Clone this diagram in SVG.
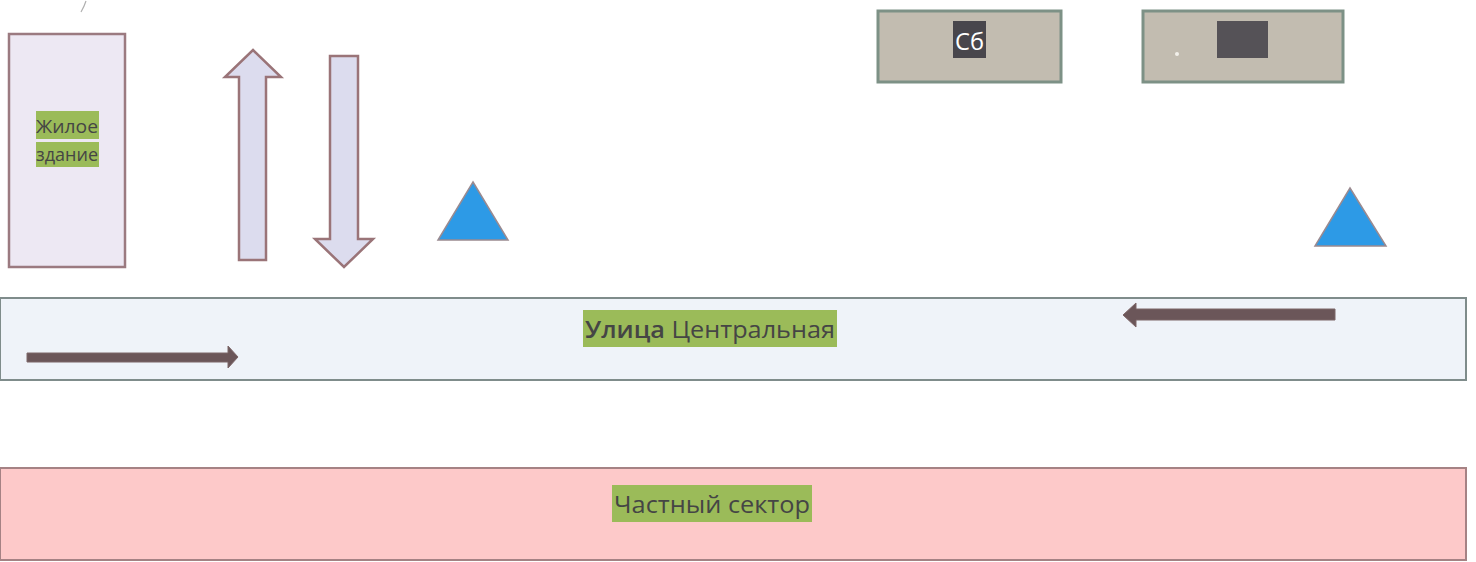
<svg xmlns="http://www.w3.org/2000/svg" width="1476" height="562" viewBox="0 0 1476 562">
<defs>
<style>
.lbl{font-family:"Open Sans","Noto Sans","Liberation Sans",sans-serif;fill:#454545}
.hl{fill:#9bbb59}
.box{fill:#c2bcb0;stroke:#7d9186;stroke-width:3}
.tri{fill:#2d9ae6;stroke:#9a8a90;stroke-width:1.5}
.varrow{fill:#dcdcee;stroke:#9a7478;stroke-width:2.5}
.harrow{fill:#6b5659;stroke:#7d6668;stroke-width:1}
</style>
</defs>
<rect width="1476" height="562" fill="#ffffff"/>
<path d="M86,1 Q84,7 81,12" stroke="#b0b0b0" stroke-width="1.2" fill="none"/>
<g id="private-sector">
<rect x="0" y="468" width="1466" height="92" fill="#fdc9c9" stroke="#a58284" stroke-width="2"/>
<rect class="hl" x="612" y="485" width="200" height="37"/>
<text class="lbl" x="614" y="513" font-size="24" textLength="196" lengthAdjust="spacingAndGlyphs">Частный сектор</text>
</g>
<g id="street">
<rect x="0" y="298" width="1466" height="82" fill="#eff3f9" stroke="#7f8c8b" stroke-width="2"/>
<rect class="hl" x="583" y="310" width="254" height="37"/>
<text class="lbl" x="585" y="338" font-size="24" textLength="250" lengthAdjust="spacingAndGlyphs"><tspan font-weight="600">Улица</tspan> Центральная</text>
</g>
<g id="building">
<rect x="9" y="34" width="116" height="233" fill="#ede8f3" stroke="#9b7a80" stroke-width="2.5"/>
<rect class="hl" x="36" y="111" width="63" height="28"/>
<rect class="hl" x="36" y="142" width="63" height="25"/>
<text class="lbl" x="36" y="133" font-size="19" textLength="62" lengthAdjust="spacingAndGlyphs">Жилое</text>
<text class="lbl" x="36" y="161" font-size="19" textLength="62" lengthAdjust="spacingAndGlyphs">здание</text>
</g>
<g id="box-sb">
<rect class="box" x="878" y="11" width="183" height="71"/>
<rect x="953" y="21" width="33" height="37" fill="#48464c"/>
<text x="955" y="50" font-size="23" textLength="29" lengthAdjust="spacingAndGlyphs" font-family="Open Sans,Noto Sans,sans-serif" fill="#ffffff">Сб</text>
</g>
<g id="box-2">
<rect class="box" x="1143" y="11" width="200" height="71"/>
<rect x="1217" y="21" width="51" height="37" fill="#555257"/>
<circle cx="1177" cy="54" r="2" fill="#f2f0ea"/>
</g>
<g id="triangle-1"><polygon class="tri" points="473,182 508,240 438,240"/></g>
<g id="triangle-2"><polygon class="tri" points="1350,188 1386,246 1315,246"/></g>
<g id="connectors">
<polygon class="varrow" points="253,50 281,77 266,77 266,260 239,260 239,77 225,77"/>
<polygon class="varrow" points="330,56 358,56 358,239 373,239 344,267 315,239 330,239"/>
<polygon class="harrow" points="27,353 228,353 228,346 238,357 228,368 228,362 27,362"/>
<polygon class="harrow" points="1335,309 1136,309 1136,303 1123,315 1136,327 1136,320 1335,320"/>
</g>
</svg>
